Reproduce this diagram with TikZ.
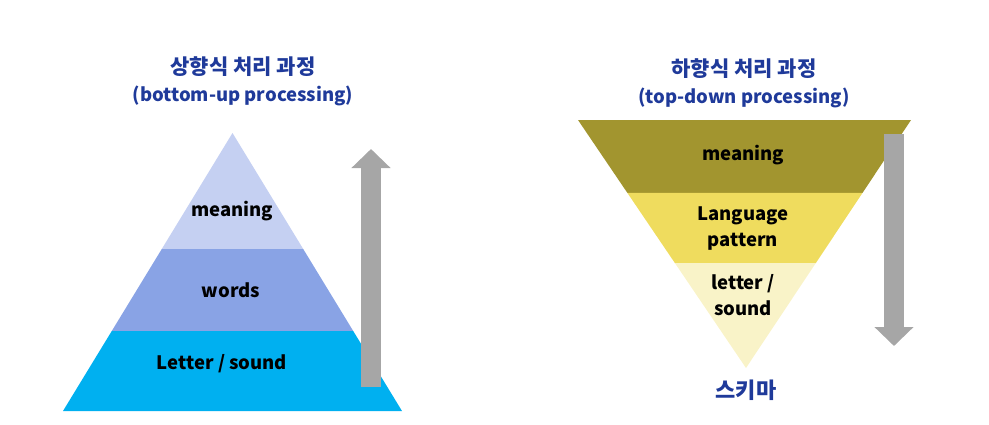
\documentclass[tikz,border=0pt]{standalone}
\usepackage{fontspec}
\setmainfont{Noto Sans CJK KR}
\usetikzlibrary{arrows.meta,calc,positioning}
\definecolor{titleblue}{HTML}{1F3A9A}
\definecolor{bupTop}{HTML}{C5D0F2}
\definecolor{bupMid}{HTML}{89A3E5}
\definecolor{bupLow}{HTML}{00B0F0}
\definecolor{tdnTop}{HTML}{A2952F}
\definecolor{tdnMid}{HTML}{EFDC5E}
\definecolor{tdnLow}{HTML}{F9F3C8}
\definecolor{flowgray}{HTML}{A6A6A6}
\newcommand{\krbig}{\fontsize{21}{27}\selectfont}

\begin{document}
\begin{tikzpicture}[
  x=1pt, y=-1pt,
  title/.style={font=\bfseries\fontsize{18.5}{27}\selectfont, text=titleblue, align=center},
  layer/.style={font=\bfseries\fontsize{18.5}{26}\selectfont, align=center, inner sep=0pt},
  flow/.style={draw=flowgray, line width=20pt, -{Triangle[length=19pt,width=38pt]}}
]
  \useasboundingbox (0,0) rectangle (989,424);

  % bottom-up pyramid
  \coordinate (bapex) at (232.5,133);
  \coordinate (bl) at (63,411);
  \coordinate (br) at (402,411);
  \fill[bupLow] (bl) -- (br) -- ($(bapex)!0.712!(br)$) -- ($(bapex)!0.712!(bl)$) -- cycle;
  \fill[bupMid] ($(bapex)!0.712!(bl)$) -- ($(bapex)!0.712!(br)$) -- ($(bapex)!0.417!(br)$) -- ($(bapex)!0.417!(bl)$) -- cycle;
  \fill[bupTop] ($(bapex)!0.417!(bl)$) -- ($(bapex)!0.417!(br)$) -- (bapex) -- cycle;

  \node[layer] (bmeaning) at (232,211) {meaning};
  \node[layer] (bwords) at (231,290) {words};
  \node[layer] (bletter) at (222,364) {Letter / sound};

  \node[title] (btitle) at (243,81) {{\krbig 상향식 처리 과정}\\(bottom-up processing)};

  \coordinate (bfrom) at (371,387);
  \coordinate (bto) at (371,149);
  \draw[flow] (bfrom) -- (bto);

  % top-down funnel
  \coordinate (tapex) at (746,368);
  \coordinate (tl) at (578,120);
  \coordinate (tr) at (911,120);
  \fill[tdnTop] (tl) -- (tr) -- ($(tapex)!0.706!(tr)$) -- ($(tapex)!0.706!(tl)$) -- cycle;
  \fill[tdnMid] ($(tapex)!0.706!(tl)$) -- ($(tapex)!0.706!(tr)$) -- ($(tapex)!0.423!(tr)$) -- ($(tapex)!0.423!(tl)$) -- cycle;
  \fill[tdnLow] ($(tapex)!0.423!(tl)$) -- ($(tapex)!0.423!(tr)$) -- (tapex) -- cycle;

  \node[layer] (tmeaning) at (743,155) {meaning};
  \node[layer] (tpattern) at (743,229) {Language\\pattern};
  \node[layer] (tletter) at (743,295) {letter /\\sound};
  \node[title, font=\bfseries\fontsize{22}{27}\selectfont] (schema) at (746,390) {스키마};

  \node[title] (ttitle) at (744,83) {{\krbig 하향식 처리 과정}\\(top-down processing)};

  \coordinate (tfrom) at (894,134);
  \coordinate (tto) at (894,346);
  \draw[flow] (tfrom) -- (tto);
\end{tikzpicture}
\end{document}
